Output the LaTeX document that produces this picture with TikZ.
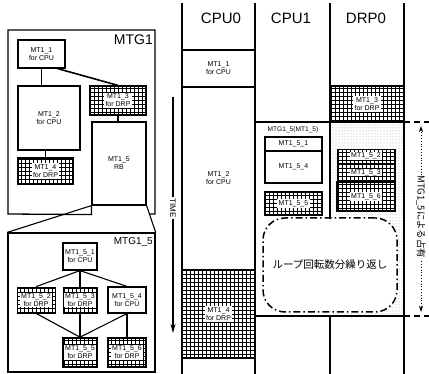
\documentclass[tikz,border=0pt]{standalone}
\usepackage{fontspec}
\setmainfont{Liberation Sans}
\newfontfamily\jpfont{Noto Sans CJK JP}
\usetikzlibrary{patterns,arrows.meta}
\tikzset{
  sz/.style 2 args={minimum width=#1pt, minimum height=#2pt},
  lbl/.style={font=\fontsize{7}{8}\selectfont, align=center, inner sep=0.5pt},
  taskbox/.style={draw, line width=1.2pt, fill=white, inner sep=0pt, lbl},
  gridbox/.style={draw, line width=1.2pt, fill=white, inner sep=0pt,
    path picture={\draw[line width=0.45pt, step=4pt] (path picture bounding box.south west) grid (path picture bounding box.north east);}},
  thinbox/.style={line width=0.7pt},
  gridlbl/.style={lbl, fill=white, inner sep=1.3pt},
  conn/.style={line width=1.1pt},
  frameline/.style={line width=1.3pt},
  colline/.style={line width=1.3pt},
  sepline/.style={line width=1.8pt},
  extline/.style={line width=1.6pt, dash pattern=on 6pt off 4pt},
  header/.style={font=\fontsize{15}{17}\selectfont, inner sep=0pt},
  biglbl/.style={anchor=north east, inner sep=0pt},
  vlbl/.style={rotate=-90, fill=white, inner sep=1pt},
}
\begin{document}
\begin{tikzpicture}[x=1pt,y=-1pt]
\useasboundingbox (0,0) rectangle (429,374);

% ---------------- left panel: MTG1 ----------------
\node[taskbox, sz={47}{28}] (mt11) at (41.5,54) {MT1\_1\\for CPU};
\node[taskbox, sz={62}{64}] (mt12) at (49,118) {MT1\_2\\for CPU};
\node[gridbox, sz={56}{29}] (mt13) at (118,100.5) {};
\node[gridlbl] (mt13l) at (mt13) {MT1\_3\\for DRP};
\node[gridbox, sz={55}{26}] (mt14) at (45.5,171) {};
\node[gridlbl] (mt14l) at (mt14) {MT1\_4\\for DRP};
\node[taskbox, sz={54}{83}] (mt15) at (119,163.5) {MT1\_5\\RB};

\draw[frameline] (mt15.south west) -- ++(0,9) -- (8,214) -- (8,30) -- (155,30) -- (155,214) -- (149,214);
\node[biglbl, font=\fontsize{14}{16}\selectfont] (mtg1) at (153,35) {MTG1};

\draw[conn] (mt11.south) -- (mt11.south |- mt12.north);
\draw[conn, line width=1.6pt] ([xshift=-8pt]mt11.south east) -- (mt13.north);
\draw[conn] (mt14.north) -- (mt14.north |- mt12.south);
\draw[conn] (mt13.south) -- (mt13.south |- mt15.north);

% ---------------- left panel: MTG1_5 ----------------
\node[draw, frameline, sz={147}{139}] (mtg15) at (81.5,302.5) {};
\node[biglbl, font=\fontsize{10}{12}\selectfont] (mtg15l) at (153,237) {MTG1\_5};
\draw[conn] (mt15.south west) -- (mtg15.north west);
\draw[conn] (mt15.south east) -- (mtg15.north east);

\node[taskbox, sz={34}{27}] (m1) at (80,256.5) {MT1\_5\_1\\for CPU};
\node[gridbox, thinbox, sz={38}{26}] (m2) at (36,300) {};
\node[gridlbl, inner sep=0.8pt] (m2l) at (m2) {MT1\_5\_2\\for DRP};
\node[gridbox, thinbox, sz={34}{26}] (m3) at (80,300) {};
\node[gridlbl, inner sep=0.8pt] (m3l) at (m3) {MT1\_5\_3\\for DRP};
\node[taskbox, sz={38}{26}] (m4) at (127,300) {MT1\_5\_4\\for CPU};
\node[gridbox, line width=1.7pt, sz={34}{29}] (m5) at (80,352.5) {};
\node[gridlbl, inner sep=0.8pt] (m5l) at (m5) {MT1\_5\_5\\for DRP};
\node[gridbox, line width=1.7pt, sz={38}{29}] (m6) at (127,352.5) {};
\node[gridlbl, inner sep=0.8pt] (m6l) at (m6) {MT1\_5\_6\\for DRP};

\draw[conn] (m1.south) -- (m2.north);
\draw[conn] (m1.south) -- (m3.north);
\draw[conn] (m1.south) -- (m4.north);
\draw[conn] (m2.south) -- (m5.north);
\draw[conn] (m3.south) -- (m5.north);
\draw[conn] (m4.south) -- (m5.north);
\draw[conn] (m4.south) -- (m6.north);

% ---------------- TIME arrow ----------------
\coordinate (timeT) at (173,97);
\coordinate (timeB) at (173,333);
\draw[line width=1.2pt, -{Stealth[length=9pt,width=5pt]}] (timeT) -- (timeB);
\node[vlbl, font=\fontsize{8}{9}\selectfont] (time) at (173,208) {TIME};

% ---------------- time chart ----------------
\node[header] (hcpu0) at (221,18) {CPU0};
\node[header] (hcpu1) at (291,18) {CPU1};
\node[header] (hdrp0) at (366,18) {DRP0};

% stippled occupation region
\fill[pattern=dots, pattern color=black!38] (330,122) rectangle (404,316);

% CPU0
\node[taskbox, sepline, sz={73}{37}] (t11) at (218.5,68.5) {MT1\_1\\for CPU};
\node[taskbox, sepline, sz={73}{183}] (t12) at (218.5,178.5) {MT1\_2\\for CPU};
\node[gridbox, sepline, sz={73}{88}] (t14) at (218.5,314) {};
\node[gridlbl] (t14l) at (t14) {MT1\_4\\for DRP};

% DRP0
\node[gridbox, sepline, sz={74}{36}] (t13) at (367,104) {};
\node[gridlbl] (t13l) at (t13) {MT1\_3\\for DRP};

% CPU1
\node[lbl, font=\fontsize{6.6}{7.5}\selectfont] (c5lbl) at (293,130) {MTG1\_5(MT1\_5)};
\node[taskbox, sz={57}{14}] (c51) at (293.5,144) {MT1\_5\_1};
\node[taskbox, sz={57}{32}] (c54) at (293.5,167) {MT1\_5\_4};
\node[gridbox, sz={57}{23}] (c55) at (293.5,203.5) {};
\node[gridlbl] (c55l) at (c55) {MT1\_5\_5};

% DRP0 inside MTG1_5
\node[gridbox, thinbox, sz={58}{14}] (d52) at (366,156) {};
\node[gridlbl, inner sep=0.8pt] (d52l) at (d52) {MT1\_5\_2};
\node[gridbox, thinbox, sz={58}{19}] (d53) at (366,172.5) {};
\node[gridlbl, inner sep=0.8pt] (d53l) at (d53) {MT1\_5\_3};
\node[gridbox, line width=1.7pt, sz={58}{29}] (d56) at (366,196.5) {};
\node[gridlbl] (d56l) at (d56) {MT1\_5\_6};

% loop
\node[draw, line width=1.5pt, dash pattern=on 7pt off 3pt on 1.5pt off 3pt,
      rounded corners=22pt, fill=white, sz={134}{94},
      font=\jpfont\fontsize{10.5}{12}\selectfont] (loop) at (330,265) {ループ回転数分繰り返し};

% column lines
\draw[colline] (182,3) -- (182,374);
\draw[colline] (255,3) -- (255,374);
\draw[colline] (330,3) -- (330,219);
\draw[colline] (330,316) -- (330,374);
\draw[colline] (404,3) -- (404,374);

% MTG1_5 occupation boundaries
\draw[sepline] (255,122) -- (404,122);
\draw[sepline] (255,316) -- (404,316);
\draw[extline] (404,122) -- (429,122);
\draw[extline] (404,316) -- (429,316);

\coordinate (occT) at (421,126);
\coordinate (occB) at (421,312);
\draw[dotted, line width=0.8pt, {Stealth[length=6pt,width=4pt]}-{Stealth[length=6pt,width=4pt]}] (occT) -- (occB);
\node[vlbl, font=\jpfont\fontsize{9.5}{11}\selectfont] (occ) at (421,217) {MTG1\_5による占有};
\end{tikzpicture}
\end{document}
